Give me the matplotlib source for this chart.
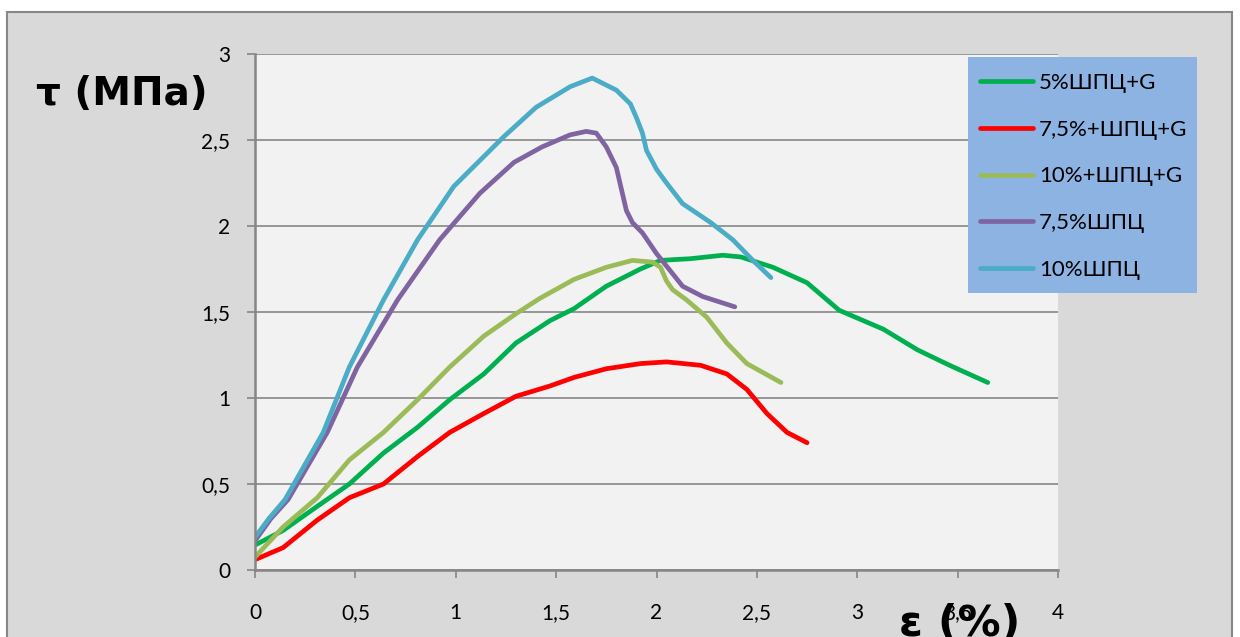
import matplotlib
matplotlib.use('Agg')
import matplotlib.pyplot as plt
from matplotlib.patches import Rectangle

# strain, %  /  shear stress, MPa
x_5g = [0, 0.14, 0.31, 0.47, 0.64, 0.81, 0.97, 1.14, 1.30, 1.47, 1.59, 1.75, 1.92, 2.02,
        2.17, 2.33, 2.42, 2.58, 2.75, 2.91, 3.13, 3.30, 3.46, 3.65]
y_5g = [0.145, 0.23, 0.37, 0.50, 0.68, 0.83, 0.99, 1.14, 1.32, 1.45, 1.52, 1.65, 1.75, 1.80,
        1.81, 1.83, 1.82, 1.76, 1.67, 1.51, 1.40, 1.28, 1.19, 1.09]

x_75g = [0, 0.14, 0.31, 0.47, 0.64, 0.81, 0.97, 1.14, 1.30, 1.47, 1.59, 1.75, 1.92, 2.05,
         2.22, 2.35, 2.45, 2.55, 2.65, 2.75]
y_75g = [0.06, 0.13, 0.29, 0.42, 0.50, 0.66, 0.80, 0.91, 1.01, 1.07, 1.12, 1.17, 1.20, 1.21,
         1.19, 1.14, 1.05, 0.91, 0.80, 0.74]

x_10g = [0, 0.14, 0.31, 0.47, 0.64, 0.81, 0.97, 1.14, 1.30, 1.42, 1.59, 1.75, 1.88, 1.98,
         2.02, 2.05, 2.08, 2.15, 2.25, 2.35, 2.45, 2.62]
y_10g = [0.075, 0.25, 0.42, 0.64, 0.80, 0.99, 1.18, 1.36, 1.49, 1.58, 1.69, 1.76, 1.80, 1.79,
         1.76, 1.68, 1.63, 1.57, 1.47, 1.32, 1.20, 1.09]

x_75 = [0, 0.08, 0.165, 0.36, 0.51, 0.71, 0.92, 1.12, 1.29, 1.43, 1.57, 1.65, 1.70, 1.75,
        1.80, 1.83, 1.85, 1.88, 1.93, 2.0, 2.13, 2.23, 2.39]
y_75 = [0.17, 0.30, 0.41, 0.80, 1.18, 1.57, 1.92, 2.19, 2.37, 2.46, 2.53, 2.55, 2.54, 2.46,
        2.34, 2.19, 2.09, 2.02, 1.96, 1.84, 1.65, 1.59, 1.53]

x_10 = [0, 0.07, 0.15, 0.34, 0.47, 0.64, 0.81, 0.99, 1.24, 1.40, 1.57, 1.68, 1.80, 1.87,
        1.90, 1.93, 1.95, 2.0, 2.05, 2.13, 2.27, 2.38, 2.48, 2.57]
y_10 = [0.19, 0.30, 0.41, 0.80, 1.18, 1.57, 1.92, 2.23, 2.52, 2.69, 2.81, 2.86, 2.79, 2.71,
        2.63, 2.54, 2.44, 2.33, 2.25, 2.13, 2.02, 1.92, 1.80, 1.70]

labels = ['5%ШПЦ+G', '7,5%+ШПЦ+G', '10%+ШПЦ+G', '7,5%ШПЦ', '10%ШПЦ']
colors = ['#00b050', '#ff0000', '#9bbb59', '#8064a2', '#4bacc6']
xticks = [0, 0.5, 1, 1.5, 2, 2.5, 3, 3.5, 4]
yticks = [0, 0.5, 1, 1.5, 2, 2.5, 3]

W, H = 1240, 637
fig = plt.figure(figsize=(12.4, 6.37), dpi=100)
fig.patch.set_facecolor('white')

# grey chart area with border
fig.patches.append(Rectangle((7 / W, -0.1), (1232 - 7) / W, 1.1 - 12 / H,
                             transform=fig.transFigure, facecolor='#d9d9d9',
                             edgecolor='#878787', linewidth=1.5, zorder=-5))

ax = fig.add_axes([255 / W, 1 - 570 / H, (1058 - 255) / W, (570 - 54) / H])
ax.set_facecolor('#f2f2f2')

series = [(x_5g, y_5g), (x_75g, y_75g), (x_10g, y_10g), (x_75, y_75), (x_10, y_10)]
for (xs, ys), lab, c in zip(series, labels, colors):
    ax.plot(xs, ys, color=c, linewidth=3.4, label=lab,
            solid_capstyle='round', solid_joinstyle='round')

ax.set_xlim(0, 4)
ax.set_ylim(0, 3)
ax.set_xticks(xticks)
ax.set_yticks(yticks)
fmt = lambda v: ('%g' % v).replace('.', ',')
ax.set_xticklabels([fmt(v) for v in xticks], fontsize=15, family='Lato')
ax.set_yticklabels([fmt(v) for v in yticks], fontsize=15, family='Lato')
ax.yaxis.grid(True, color='#868686', linewidth=1.2)
ax.set_axisbelow(True)
for s in ['top', 'right']:
    ax.spines[s].set_visible(False)
for s in ['left', 'bottom']:
    ax.spines[s].set_color('#868686')
    ax.spines[s].set_linewidth(1.8)
ax.tick_params(axis='y', direction='out', length=6, width=1.2, color='#868686', pad=12)
ax.tick_params(axis='x', direction='out', length=6, width=1.2, color='#868686', pad=18)

# legend box
fig.patches.append(Rectangle((968 / W, 1 - 293 / H), (1197 - 968) / W, (293 - 57) / H,
                             transform=fig.transFigure, facecolor='#8db3e2',
                             edgecolor='none', zorder=5))
leg = fig.legend(loc='upper left', bbox_to_anchor=(960 / W, 1 - 53 / H), frameon=False,
                 prop={'family': 'Lato', 'size': 16}, handlelength=2.4,
                 handletextpad=0.25, labelspacing=1.2)
leg.set_zorder(6)

fig.text(122 / W, 1 - 94 / H, 'τ (МПа)', fontsize=28, fontweight='bold',
         family='DejaVu Sans', ha='center', va='center')
fig.text(960 / W, 1 - 624 / H, 'ε (%)', fontsize=31, fontweight='bold',
         family='DejaVu Sans', ha='center', va='center')

fig.savefig('out.png', dpi=100)
